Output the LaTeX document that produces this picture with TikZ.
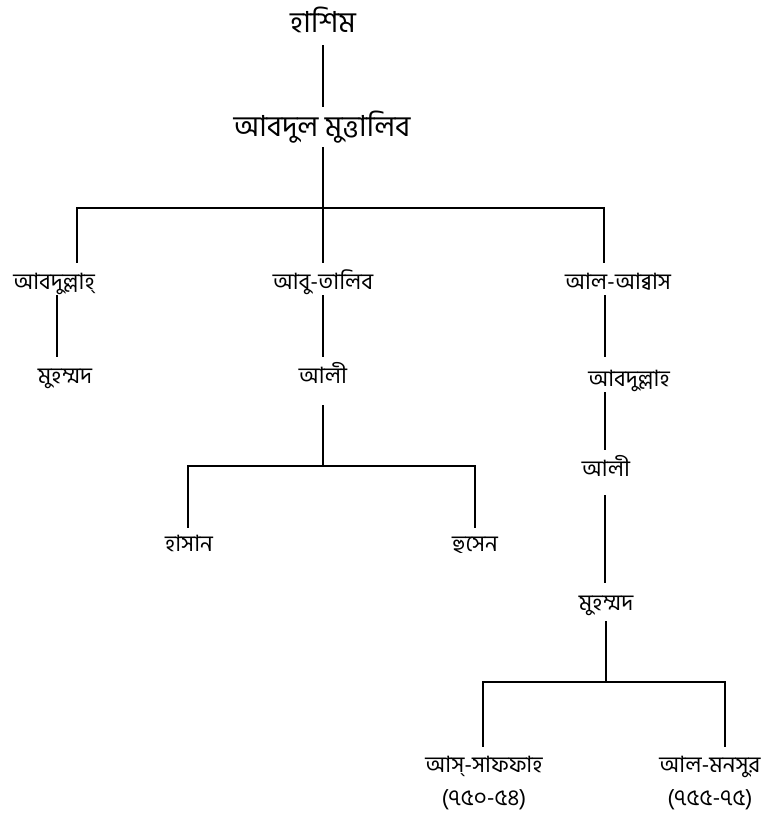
\documentclass[tikz,border=0pt]{standalone}
\usepackage{fontspec}
\newfontfamily\bn[Script=Bengali]{Hind Siliguri}
\tikzset{
  link/.style={line width=1.6pt, black},
  lbl/.style={font=\bn\fontsize{22.5}{26}\selectfont, inner sep=0pt, anchor=base},
  biglbl/.style={font=\bn\fontsize{29}{33}\selectfont, inner sep=0pt, anchor=base},
  hd/.style 2 args={text height=#1pt, text depth=#2pt}
}
\begin{document}
\begin{tikzpicture}[x=1pt,y=-1pt]
\useasboundingbox (0,0) rectangle (771,819);
% nodes
\node[biglbl, hd={20}{13}] (hashim) at (323,32) {হাশিম};
\node[biglbl, hd={29}{11}] (mutt) at (322,136) {আবদুল মুত্তালিব};
\node[lbl, hd={26}{6}] (abd1) at (54,289) {আবদুল্লাহ্};
\node[lbl, hd={26}{6}] (abutalib) at (323,289) {আবু-তালিব};
\node[lbl, hd={26}{6}] (abbas) at (618,289) {আল-আব্বাস};
\node[lbl, hd={26}{4}] (muh1) at (65,383) {মুহম্মদ};
\node[lbl, hd={26}{22}] (ali1) at (323,383) {আলী};
\node[lbl, hd={29}{6}] (abd2) at (629,386) {আবদুল্লাহ};
\node[lbl, hd={23}{4}] (hasan) at (189,551) {হাসান};
\node[lbl, hd={23}{4}] (husen) at (475,551) {হুসেন};
\node[lbl, hd={26}{19}] (ali2) at (606,476) {আলী};
\node[lbl, hd={27}{11}] (muh2) at (606,610) {মুহম্মদ};
\node[lbl, hd={25}{4}] (saffah) at (484,772) {আস্-সাফফাহ};
\node[lbl, hd={25}{4}] (mansur) at (710,772) {আল-মনসুর};
\node[lbl] (saffahyr) at (484,805) {(৭৫০-৫৪)};
\node[lbl] (mansuryr) at (710,805) {(৭৫৫-৭৫)};
% junctions
\coordinate (j1) at (323,208);
\coordinate (j1l) at (77,208);
\coordinate (j1r) at (604,208);
\coordinate (l1) at (57,0);
\coordinate (r1) at (605,0);
\coordinate (j2) at (323,466);
\coordinate (j3) at (606,682);
\coordinate (b3l) at (483,0);
\coordinate (b3r) at (725,0);
% connectors
\draw[link] (hashim.south) -- (mutt.north -| hashim.south);
\draw[link] (mutt.south -| hashim.south) -- (abutalib.north);
\draw[link] (abd1.north -| j1l) |- (j1) -| (abbas.north -| j1r);
\draw[link] (abd1.south -| l1) -- (muh1.north -| l1);
\draw[link] (abutalib.south) -- (ali1.north);
\draw[link] (ali1.south) -- (j2);
\draw[link] (hasan.north -| 188,0) |- (j2) -| (husen.north);
\draw[link] (abbas.south -| r1) -- (abd2.north -| r1);
\draw[link] (abd2.south -| r1) -- (ali2.north -| r1);
\draw[link] (ali2.south -| r1) -- (muh2.north -| r1);
\draw[link] (muh2.south) -- (j3);
\draw[link] (saffah.north -| b3l) |- (j3) -| (mansur.north -| b3r);
\end{tikzpicture}
\end{document}
